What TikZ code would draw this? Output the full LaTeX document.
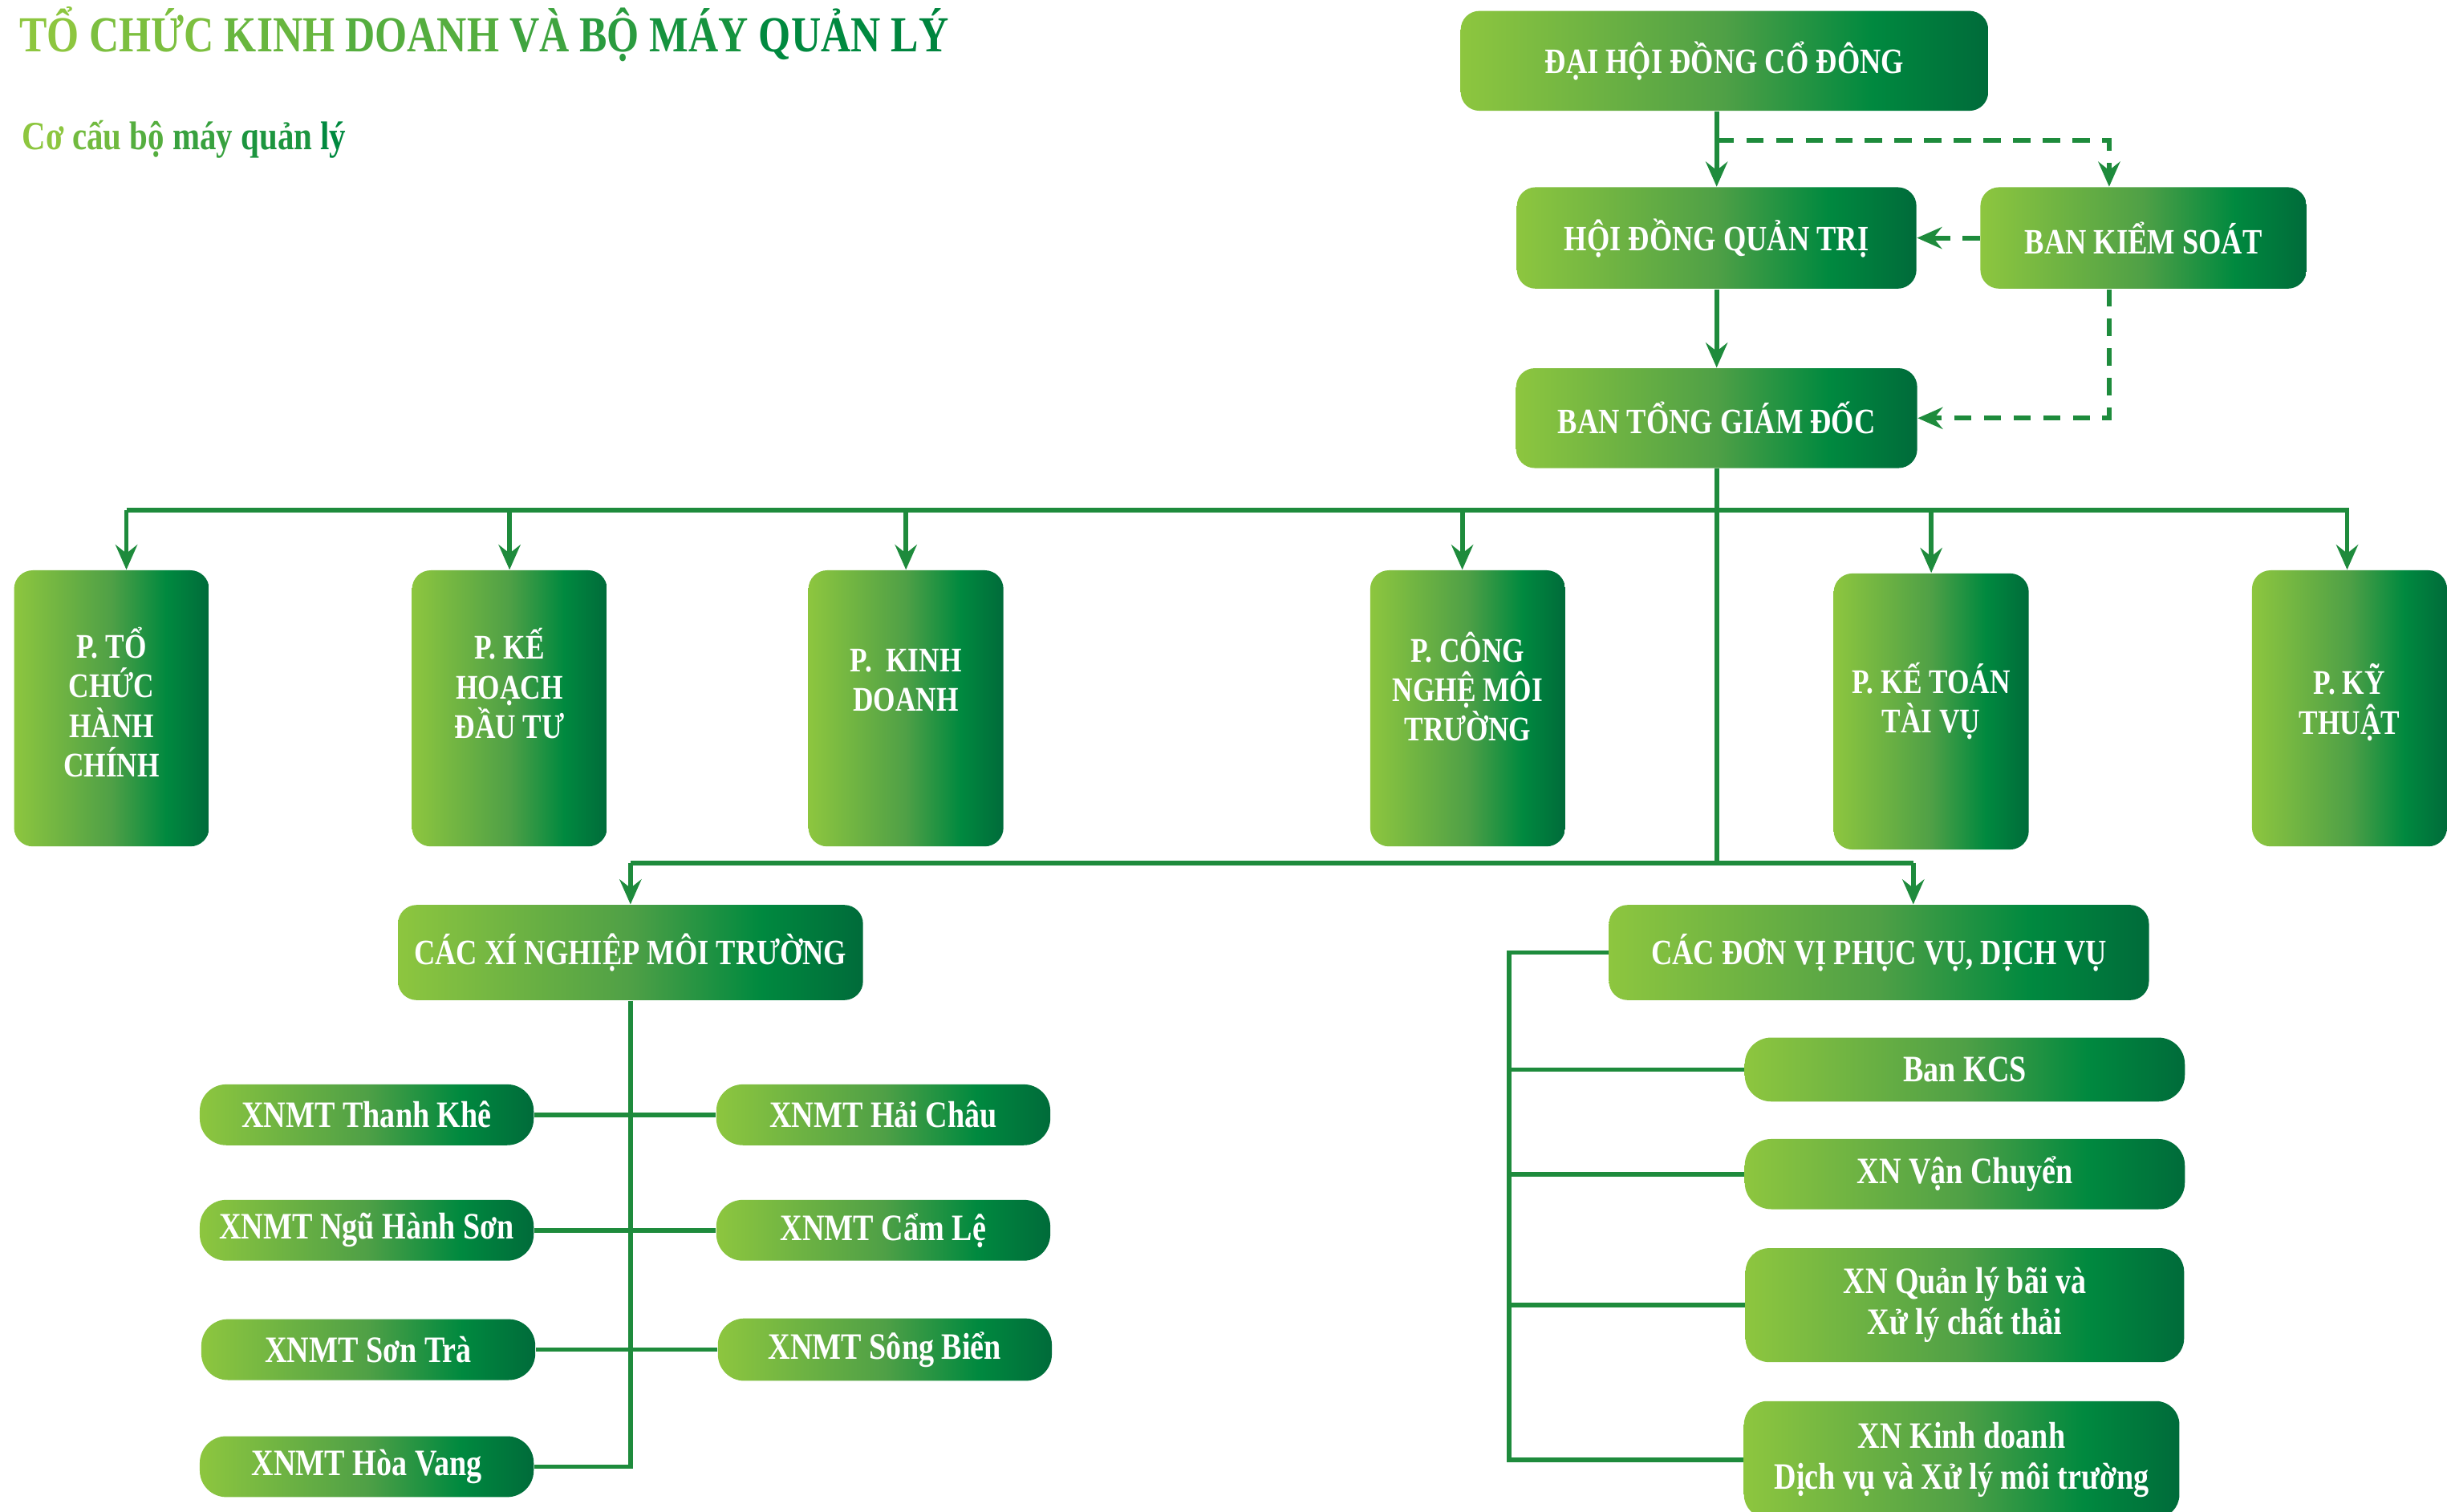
\documentclass[tikz,border=0pt]{standalone}
\usepackage{fontspec}
\setmainfont{Liberation Serif}[FakeStretch=0.82]
\usetikzlibrary{arrows.meta}

\definecolor{gLight}{HTML}{8DC63F}
\definecolor{gMid}{HTML}{4FA046}
\definecolor{gBright}{HTML}{00893F}
\definecolor{gDark}{HTML}{006B3A}
\definecolor{gLine}{HTML}{1E8B3C}
\pgfdeclarehorizontalshading{greenfill}{100bp}{color(0bp)=(gLight); color(25bp)=(gLight); color(50bp)=(gMid); color(64bp)=(gBright); color(75bp)=(gDark); color(100bp)=(gDark)}

\begin{document}
\begin{tikzpicture}[x=0.02cm, y=-0.02cm,
    box/.style={shading=greenfill, rounded corners=0.24cm, text=white, align=center, inner sep=0pt,
        font=\bfseries\fontsize{13}{14.2}\selectfont},
    dept/.style={box, minimum width=2.5cm, minimum height=3.54cm, font=\bfseries\fontsize{12.6}{14.4}\selectfont},
    pill/.style={box, rounded corners=0.34cm, font=\bfseries\fontsize{13.6}{15}\selectfont},
    wh/.style 2 args={minimum width=#1*0.02cm, minimum height=#2*0.02cm},
    lift/.style={text depth=#1*0.04cm},
    link/.style={draw=gLine, line width=1.7pt},
    dashlink/.style={link, dash pattern=on 0.22cm off 0.16cm},
    arr/.style={-{Stealth[length=0.32cm, width=0.28cm, inset=0.11cm]}}]
    \useasboundingbox (0,0) rectangle (1568,969);

    \node[anchor=base west, inner sep=0pt, font=\bfseries\fontsize{18.4}{22}\selectfont] (title) at (12,33)
        {\textcolor{gLight}{TỔ} \textcolor{gLight!88!gBright}{CHỨC} \textcolor{gLight!74!gBright}{KINH}
         \textcolor{gLight!60!gBright}{DOANH} \textcolor{gLight!45!gBright}{VÀ} \textcolor{gLight!30!gBright}{BỘ}
         \textcolor{gLight!16!gBright}{MÁY} \textcolor{gBright}{QUẢN} \textcolor{gBright!85!gDark}{LÝ}};
    \node[anchor=base west, inner sep=0pt, font=\bfseries\fontsize{14.6}{17}\selectfont] (subtitle) at (14,96)
        {\textcolor{gLight}{Cơ} \textcolor{gLight!80!gBright}{cấu} \textcolor{gLight!60!gBright}{bộ}
         \textcolor{gLight!40!gBright}{máy} \textcolor{gLight!20!gBright}{quản} \textcolor{gBright}{lý}};

    \node[box, wh={338}{64}] (dhdcd) at (1105,39) {ĐẠI HỘI ĐỒNG CỔ ĐÔNG};
    \node[box, wh={256}{65}] (hdqt) at (1100,152.5) {HỘI ĐỒNG QUẢN TRỊ};
    \node[box, wh={209}{65}] (bks) at (1373.5,152.5) {BAN KIỂM SOÁT};
    \node[box, wh={257}{64}] (btgd) at (1100,268) {BAN TỔNG GIÁM ĐỐC};

    \node[dept, lift=4] (p1) at (71.5,454) {P. TỔ\\CHỨC\\HÀNH\\CHÍNH};
    \node[dept, lift=16] (p2) at (326.5,454) {P. KẾ\\HOẠCH\\ĐẦU TƯ};
    \node[dept, lift=18] (p3) at (580.5,454) {P.\ \ KINH\\DOANH};
    \node[dept, lift=14] (p4) at (940.5,454) {P. CÔNG\\NGHỆ MÔI\\TRƯỜNG};
    \node[dept, lift=9] (p5) at (1237.5,456) {P. KẾ TOÁN\\TÀI VỤ};
    \node[dept, lift=6] (p6) at (1505.5,454) {P. KỸ\\THUẬT};

    \node[box, wh={298}{61}] (cxn) at (404,610.5) {CÁC XÍ NGHIỆP MÔI TRƯỜNG};
    \node[box, wh={346}{61}] (cdv) at (1204,610.5) {CÁC ĐƠN VỊ PHỤC VỤ, DỊCH VỤ};

    \node[pill, wh={214}{39}] (tk) at (235,714.5) {XNMT Thanh Khê};
    \node[pill, wh={214}{39}] (nhs) at (235,788.5) {XNMT Ngũ Hành Sơn};
    \node[pill, wh={214}{39}] (st) at (236,865) {XNMT Sơn Trà};
    \node[pill, wh={214}{39}] (hv) at (235,940) {XNMT Hòa Vang};
    \node[pill, wh={214}{39}] (hc) at (566,714.5) {XNMT Hải Châu};
    \node[pill, wh={214}{39}] (cl) at (566,788.5) {XNMT Cẩm Lệ};
    \node[pill, wh={214}{40}] (sb) at (567,865) {XNMT Sông Biển};

    \node[pill, wh={282}{41}] (kcs) at (1259,685.5) {Ban KCS};
    \node[pill, wh={282}{45}] (vc) at (1259,752.5) {XN Vận Chuyển};
    \node[pill, rounded corners=0.3cm, wh={281}{73}] (ql) at (1259,836.5) {XN Quản lý bãi và\\Xử lý chất thải};
    \node[pill, rounded corners=0.3cm, wh={279}{75}] (kd) at (1257,935.5) {XN Kinh doanh\\Dịch vụ và Xử lý môi trường};

    \coordinate (split) at (1100,90);
    \coordinate (bus) at (0,327);
    \coordinate (hub) at (0,553);
    \coordinate (spine) at (967,0);

    \draw[link, arr] (hdqt.north |- dhdcd.south) -- (hdqt.north);
    \draw[dashlink, arr] (split) -| ([xshift=-0.44cm]bks.north);
    \draw[dashlink, arr] (bks.west) -- (hdqt.east);
    \draw[dashlink, arr] ([xshift=-0.44cm]bks.south) |- (btgd.east);
    \draw[link, arr] (hdqt.south) -- (btgd.north);
    \draw[link] (btgd.south) -- (btgd.south |- hub);

    \draw[link] ([xshift=0.19cm]p1.north |- bus) -- (p6.north |- bus);
    \foreach \n/\dx in {p1/0.19, p2/0, p3/0, p4/-0.07, p5/0, p6/-0.03}
        \draw[link, arr] ([xshift=\dx cm]\n.north |- bus) -- ([xshift=\dx cm]\n.north);

    \draw[link] (cxn.north |- hub) -- ([xshift=0.44cm]cdv.north |- hub);
    \draw[link, arr] (cxn.north |- hub) -- (cxn.north);
    \draw[link, arr] ([xshift=0.44cm]cdv.north |- hub) -- ([xshift=0.44cm]cdv.north);

    \draw[link] (cxn.south) |- (hv.east);
    \draw[link] (tk.east) -- (hc.west);
    \draw[link] (nhs.east) -- (cl.west);
    \draw[link] (st.east) -- (sb.west);

    \draw[link] (cdv.west) -- (cdv.west -| spine) |- (kd.west);
    \foreach \n in {kcs, vc, ql}
        \draw[link] (\n.west -| spine) -- (\n.west);
\end{tikzpicture}
\end{document}
